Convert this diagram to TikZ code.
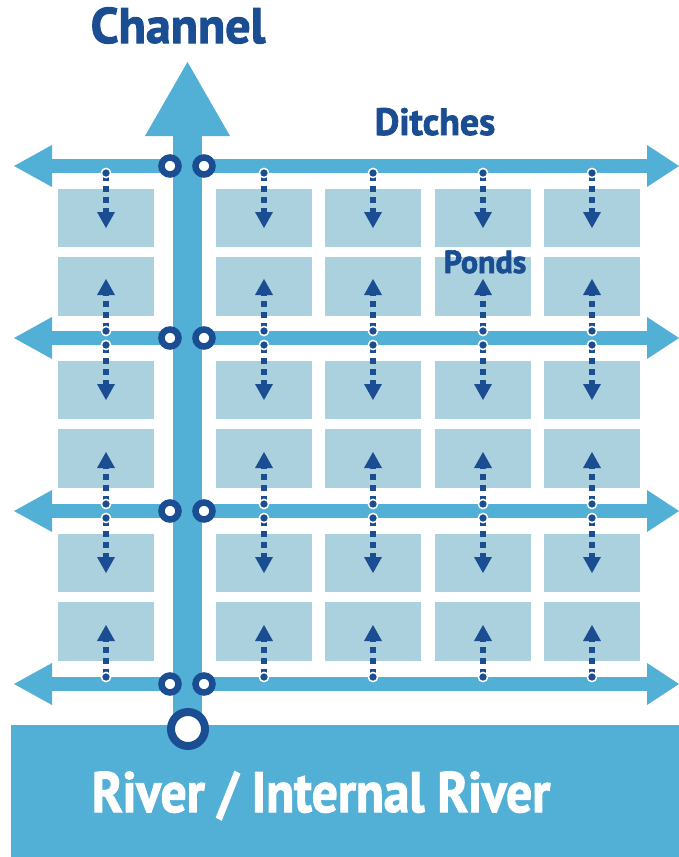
\documentclass[tikz,border=0pt]{standalone}
\usepackage{fontspec}
\newfontfamily\labw{PT Sans}[FakeBold=2]
\newfontfamily\labn{PT Sans}[FakeStretch=0.9,FakeBold=2]
\definecolor{ditchc}{RGB}{82,175,213}
\definecolor{pondc}{RGB}{171,208,222}
\definecolor{navy}{RGB}{26,77,145}
\tikzset{
  pondbox/.style={fill=pondc},
  ditchfill/.style={fill=ditchc},
  ring/.style={draw=navy,line width=6.5pt,fill=white},
  flowline/.style={draw=navy,line width=6pt,dash pattern=on 6pt off 5pt},
  flowtip/.style={fill=navy},
  flowdot/.style={fill=navy,draw=white,line width=1.5pt},
  lbl/.style={inner sep=0pt,anchor=base,text=navy}
}
\begin{document}
\begin{tikzpicture}[x=1pt,y=-1pt]
\useasboundingbox (0,0) rectangle (679,857);
% ponds
\foreach \d in {166,338,511}{
  \foreach \cx in {58,216,325,435,544}{
    \fill[pondbox] (\cx,\d+23) rectangle +(96,58);
    \fill[pondbox] (\cx,\d+91) rectangle +(96,59);
  }
}
% ditches
\foreach \d in {166,338,511,684}{
  \fill[ditchfill] (52,\d-7) rectangle (647,\d+7);
  \fill[ditchfill] (14,\d) -- (52,\d-21) -- (52,\d+21) -- cycle;
  \fill[ditchfill] (679,\d) -- (647,\d-21) -- (647,\d+21) -- cycle;
}
% river
\fill[ditchfill] (11,725) rectangle (679,857);
% channel
\fill[ditchfill] (173,134) rectangle (202,727);
\fill[ditchfill] (187.5,62) -- (230,136) -- (145,136) -- cycle;
% down arrows (from ditch into pond below)
\foreach \d in {166,338,511}{
  \foreach \x in {106,264,373,483,592}{
    \draw[flowline] (\x,\d+9) -- (\x,\d+48);
    \fill[flowtip] (\x-9,\d+46) -- (\x+9,\d+46) -- (\x,\d+62) -- cycle;
    \filldraw[flowdot] (\x,\d+7) circle (4.6);
  }
}
% up arrows (from ditch into pond above)
\foreach \d in {338,511,684}{
  \foreach \x in {106,264,373,483,592}{
    \draw[flowline] (\x,\d-9) -- (\x,\d-44);
    \fill[flowtip] (\x-9,\d-43) -- (\x+9,\d-43) -- (\x,\d-59) -- cycle;
    \filldraw[flowdot] (\x,\d-7) circle (4.6);
  }
}
% gates
\foreach \d in {166,338,511,684}{
  \draw[ring] (170,\d) circle (8.5);
  \draw[ring] (204,\d) circle (8.5);
}
\draw[ring,line width=8pt] (188,729) circle (17);
% labels
\node[lbl,font=\labw\bfseries\fontsize{50}{50}\selectfont] (channel) at (178,43) {Channel};
\node[lbl,font=\labw\bfseries\fontsize{38}{38}\selectfont] (ditches) at (435,135) {Ditches};
\node[lbl,font=\labw\bfseries\fontsize{32}{32}\selectfont] (ponds) at (485,273) {Ponds};
\node[lbl,text=white,font=\labn\bfseries\fontsize{57}{57}\selectfont] (river) at (321,812) {River / Internal River};
\end{tikzpicture}
\end{document}
